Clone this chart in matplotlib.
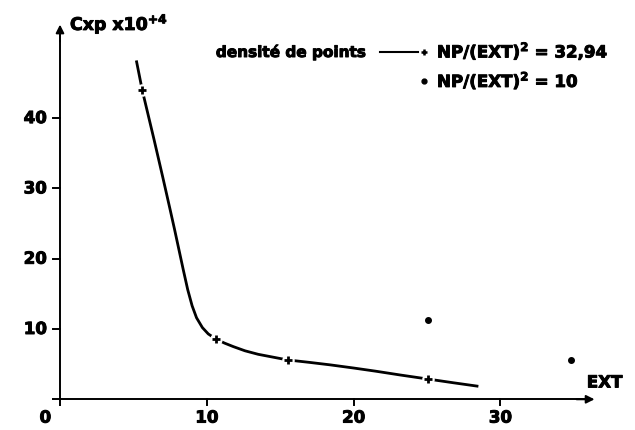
import matplotlib
matplotlib.use("Agg")
import matplotlib.pyplot as plt
import matplotlib.patheffects as pe

# courbe lissée (NP/(EXT)^2 = 32,94)
curve_ext = [5.2, 5.6, 6.4, 7.0, 7.5, 7.8, 8.1, 8.4, 8.7, 9.0, 9.3, 9.7, 10.1, 10.6,
             11.2, 11.8, 12.6, 13.5, 14.5, 15.5, 17.0, 18.4, 20.0, 21.5, 23.2, 25.0, 26.8, 28.5]
curve_cxp = [48.2, 44.0, 37.0, 31.6, 27.0, 24.2, 21.3, 18.4, 15.6, 13.3, 11.6, 10.2, 9.3, 8.6,
             8.0, 7.5, 6.9, 6.4, 6.0, 5.6, 5.25, 4.9, 4.45, 4.0, 3.45, 2.9, 2.35, 1.85]

# points mesurés (croix) sur la courbe
plus_ext = [5.6, 10.6, 15.5, 25.05]
plus_cxp = [44.0, 8.6, 5.6, 2.9]

# points isolés NP/(EXT)^2 = 10
dot_ext = [25.05, 34.8]
dot_cxp = [11.3, 5.6]

xticks = [10, 20, 30]
yticks = [10, 20, 30, 40]

W, H = 635, 431
plt.rcParams['font.family'] = ['DejaVu Sans']
plt.rcParams['font.weight'] = 'bold'
plt.rcParams['mathtext.fontset'] = 'custom'
plt.rcParams['mathtext.bf'] = 'DejaVu Sans:bold'
plt.rcParams['mathtext.rm'] = 'DejaVu Sans:bold'

heavy = [pe.withStroke(linewidth=0.7, foreground='black')]

fig = plt.figure(figsize=(W / 100, H / 100), dpi=100)
ax = fig.add_axes([0, 0, 1, 1])
# échelle : 0 -> 60 px, 14.68 px par unité en x ; 0 -> 400.3 px, 7.03 px par unité en y
ax.set_xlim(-60 / 14.68, (W - 60) / 14.68)
ax.set_ylim((400.3 - H) / 7.03, 400.3 / 7.03)
ax.axis('off')

def px(x, y):
    return x / W, 1 - y / H

# axes avec flèches
ax.plot([-0.55, 36.0], [0, 0], color='black', lw=1.4, solid_capstyle='butt')
ax.plot([0, 0], [-1.0, 52.5], color='black', lw=1.4, solid_capstyle='butt')
ax.annotate('', xy=(36.6, 0), xytext=(35.0, 0),
            arrowprops=dict(arrowstyle='-|>', color='black', lw=1.4, mutation_scale=12))
ax.annotate('', xy=(0, 53.7), xytext=(0, 50.5),
            arrowprops=dict(arrowstyle='-|>', color='black', lw=1.4, mutation_scale=12))

for t in xticks:
    ax.plot([t, t], [0, -0.8], color='black', lw=1.4)
    ax.text(t, -2.6, str(t), ha='center', va='center', fontsize=12, path_effects=heavy)
ax.text(-1.0, -2.6, '0', ha='center', va='center', fontsize=12, path_effects=heavy)
for t in yticks:
    ax.plot([-0.45, 0], [t, t], color='black', lw=1.4)
    ax.text(-0.9, t, str(t), ha='right', va='center', fontsize=12, path_effects=heavy)

ax.text(*px(70, 25), r'Cxp x10$^{\mathbf{+4}}$', transform=ax.transAxes,
        ha='left', va='center', fontsize=12.5, path_effects=heavy)
ax.text(37.1, 2.4, 'EXT', ha='center', va='center', fontsize=12, path_effects=heavy)

# courbe et marqueurs
ax.plot(curve_ext, curve_cxp, color='black', lw=2.0, solid_capstyle='butt', solid_joinstyle='round')
ax.plot(plus_ext, plus_cxp, ls='none', marker='o', ms=8, color='white', mec='white')
ax.plot(plus_ext, plus_cxp, ls='none', marker='+', ms=6, mew=2.0, color='black')
ax.plot(dot_ext, dot_cxp, ls='none', marker='o', ms=4, color='black')

# légende
ax.text(*px(365, 53), 'densité de points', transform=ax.transAxes,
        ha='right', va='center', fontsize=11, path_effects=heavy)
ax.plot([px(380, 0)[0], px(418, 0)[0]], [px(0, 53)[1]] * 2, transform=ax.transAxes,
        color='black', lw=1.5)
ax.plot([px(424, 0)[0]], [px(0, 53)[1]], transform=ax.transAxes,
        marker='+', ms=5, mew=1.8, color='black')
ax.text(*px(437, 52), r'NP/(EXT)$^{\mathbf{2}}$ = 32,94', transform=ax.transAxes,
        ha='left', va='center', fontsize=12, path_effects=heavy)
ax.plot([px(424, 0)[0]], [px(0, 82)[1]], transform=ax.transAxes,
        marker='o', ms=3.5, color='black')
ax.text(*px(437, 81), r'NP/(EXT)$^{\mathbf{2}}$ = 10', transform=ax.transAxes,
        ha='left', va='center', fontsize=12, path_effects=heavy)

fig.savefig('out.png', dpi=100)
